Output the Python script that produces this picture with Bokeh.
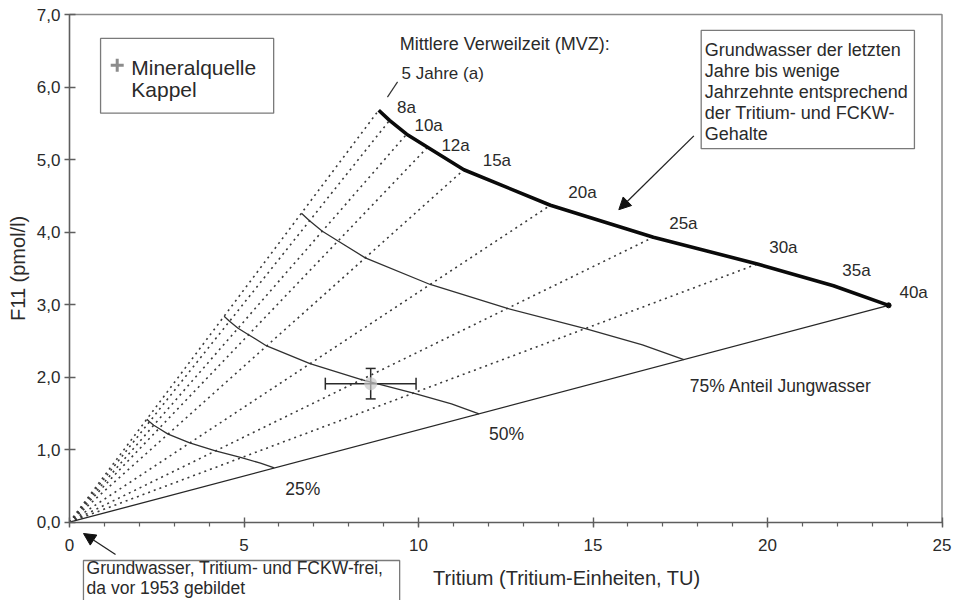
import math
from bokeh.plotting import figure
from bokeh.models import (Range1d, ColumnDataSource, Arrow, NormalHead,
                          Whisker, TeeHead, FixedTicker)
from bokeh.core.properties import value
from bokeh.embed import file_html
from bokeh.resources import INLINE

# ---------------- data ----------------
ages = [5, 8, 10, 12, 15, 20, 25, 30, 35, 40]
age_labels = ["5 Jahre (a)", "8a", "10a", "12a", "15a", "20a", "25a", "30a", "35a", "40a"]
tritium = [8.86, 9.17, 9.66, 10.26, 11.30, 13.78, 16.73, 19.71, 21.89, 23.47]
f11 = [5.68, 5.54, 5.35, 5.17, 4.86, 4.37, 3.93, 3.56, 3.26, 2.99]
dotted_ages = [5, 8, 10, 12, 15, 20, 25, 30]

young_fractions = [0.25, 0.50, 0.75]
fraction_labels = ["25%", "50%", "75% Anteil Jungwasser"]

sample_name = "Mineralquelle\nKappel"
sample_tritium = [8.63]
sample_tritium_err = [1.30]
sample_f11 = [1.91]
sample_f11_err = [0.21]

x_ticks = [0, 5, 10, 15, 20, 25]
x_tick_labels = ["0", "5", "10", "15", "20", "25"]
x_minor_ticks = list(range(0, 26))
y_ticks = [0, 1, 2, 3, 4, 5, 6, 7]
y_tick_labels = ["0,0", "1,0", "2,0", "3,0", "4,0", "5,0", "6,0", "7,0"]

x_title = "Tritium  (Tritium-Einheiten, TU)"
y_title = "F11 (pmol/l)"
mvz_title = "Mittlere Verweilzeit (MVZ):"
note_young = "Grundwasser der letzten\nJahre bis wenige\nJahrzehnte entsprechend\nder Tritium- und FCKW-\nGehalte"
note_old = "Grundwasser, Tritium- und FCKW-frei,\nda vor 1953 gebildet"

# ---------------- layout / styling ----------------
FONT = "Liberation Sans"
TXT = "#2a2a2a"
AX = "#5e5e5e"
BOX = "#7a7a7a"

W, H = 952, 600
PX_LEFT, PX_RIGHT = 69.0, 941.5     # canvas px of x = 0 and x = 25
PY_BOTTOM, PY_TOP = 521.7, 14.0     # canvas px of y = 0 and y = 7
kx = (PX_RIGHT - PX_LEFT) / (x_ticks[-1] - x_ticks[0])
ky = (PY_BOTTOM - PY_TOP) / (y_ticks[-1] - y_ticks[0])
x_range = Range1d(x_ticks[0] - PX_LEFT / kx, x_ticks[-1] + (W - PX_RIGHT) / kx)
y_range = Range1d(y_ticks[0] - (H - PY_BOTTOM) / ky, y_ticks[-1] + PY_TOP / ky)

# label offsets in screen pixels
age_dx = [64, 17, 22, 28, 33, 32, 30, 26, 23, 25]
age_dy = [-37, -13, -9, -2, -9, -13, -14, -16, -15, -13]
frac_dx = [11, 10, 6]
frac_dy = [21, 20, 26]

p = figure(width=W, height=H, x_range=x_range, y_range=y_range,
           output_backend="svg", toolbar_location=None,
           min_border_left=0, min_border_right=0, min_border_top=0, min_border_bottom=0)
p.grid.visible = False
p.outline_line_color = None
p.background_fill_color = "white"
p.border_fill_color = "white"

p.xaxis.ticker = FixedTicker(ticks=x_ticks, minor_ticks=x_minor_ticks)
p.xaxis.major_label_overrides = {t: l for t, l in zip(x_ticks, x_tick_labels)}
p.yaxis.ticker = FixedTicker(ticks=y_ticks)
p.yaxis.major_label_overrides = {t: l for t, l in zip(y_ticks, y_tick_labels)}
p.xaxis.fixed_location = y_ticks[0]
p.yaxis.fixed_location = x_ticks[0]
p.xaxis.bounds = (x_ticks[0], x_ticks[-1])
p.yaxis.bounds = (y_ticks[0], y_ticks[-1])

for ax in (p.xaxis, p.yaxis):
    ax.axis_line_color = AX
    ax.axis_line_width = 1.6
    ax.major_tick_line_color = AX
    ax.major_tick_line_width = 1.4
    ax.minor_tick_line_color = AX
    ax.minor_tick_line_width = 1.2
    ax.major_label_text_font = FONT
    ax.major_label_text_font_size = "17px"
    ax.major_label_text_color = TXT
p.xaxis.major_tick_in = 5
p.xaxis.major_tick_out = 5
p.xaxis.minor_tick_in = 0
p.xaxis.minor_tick_out = 4
p.xaxis.major_label_standoff = 12
p.yaxis.major_tick_in = 6
p.yaxis.major_tick_out = 5
p.yaxis.minor_tick_line_color = None
p.yaxis.major_label_standoff = 4

# plot frame (top and right edges)
p.line([x_ticks[0], x_ticks[-1], x_ticks[-1]], [y_ticks[-1], y_ticks[-1], y_ticks[0]],
       line_color="#8a8a8a", line_width=1.5)

# dotted lines origin -> age points
dx_, dy_ = [], []
for a in dotted_ages:
    i = ages.index(a)
    dx_.append([0, tritium[i]])
    dy_.append([0, f11[i]])
p.multi_line(xs=dx_, ys=dy_, line_color="#3a3a3a", line_width=1.6, line_dash="2 4")

# bottom line (oldest water end member)
p.line([0, tritium[-1]], [0, f11[-1]], line_color="#262626", line_width=1.3)

# mixing lines (fraction of young water)
mx = [[f * t for t in tritium] for f in young_fractions]
my = [[f * v for v in f11] for f in young_fractions]
p.multi_line(xs=mx, ys=my, line_color="#303030", line_width=1.3)

# main curve
p.line(tritium, f11, line_color="#0a0a0a", line_width=3.6, line_join="round")
p.scatter([tritium[-1]], [f11[-1]], size=5, color="#0a0a0a")

# leader line for "5 Jahre (a)"
p.segment(x0=[tritium[0] + 0.25], y0=[f11[0] + 0.18], x1=[tritium[0] + 0.54], y1=[f11[0] + 0.39],
          line_color="#333", line_width=1.2)

# age labels
p.text(x=tritium, y=f11, text=age_labels, x_offset=age_dx, y_offset=age_dy,
       text_align="center", text_baseline="middle", text_font=value(FONT),
       text_font_size="17px", text_color=TXT)

# fraction labels at mixing line ends
fx = [f * tritium[-1] for f in young_fractions]
fy = [f * f11[-1] for f in young_fractions]
p.text(x=fx, y=fy, text=fraction_labels, x_offset=frac_dx, y_offset=frac_dy,
       text_align="left", text_baseline="middle", text_font=value(FONT),
       text_font_size="17.5px", text_color=TXT)

# MVZ title
p.text(x=[9.46], y=[6.60], text=[mvz_title], text_align="left", text_baseline="middle",
       text_font=value(FONT), text_font_size="18px", text_color=TXT)

# sample point with error bars
src = ColumnDataSource(dict(x=sample_tritium, y=sample_f11,
                            xl=[a - e for a, e in zip(sample_tritium, sample_tritium_err)],
                            xu=[a + e for a, e in zip(sample_tritium, sample_tritium_err)],
                            yl=[a - e for a, e in zip(sample_f11, sample_f11_err)],
                            yu=[a + e for a, e in zip(sample_f11, sample_f11_err)]))
p.scatter("x", "y", source=src, marker="circle", size=13, fill_color="#c8c8c8", fill_alpha=0.7,
          line_color=None)
p.add_layout(Whisker(source=src, base="y", lower="xl", upper="xu", dimension="width",
                     line_color="#2a2a2a", line_width=1.5,
                     upper_head=TeeHead(size=12, line_color="#2a2a2a", line_width=1.5),
                     lower_head=TeeHead(size=12, line_color="#2a2a2a", line_width=1.5)))
p.add_layout(Whisker(source=src, base="x", lower="yl", upper="yu", dimension="height",
                     line_color="#2a2a2a", line_width=1.5,
                     upper_head=TeeHead(size=10, line_color="#2a2a2a", line_width=1.5),
                     lower_head=TeeHead(size=10, line_color="#2a2a2a", line_width=1.5)))

# legend box
p.quad(left=[0.89], right=[5.85], top=[6.67], bottom=[5.64], fill_color="white",
       line_color=BOX, line_width=1.3)
p.scatter([1.367], [6.30], marker="cross", size=13, line_color="#8c8c8c", line_width=3)
p.text(x=[1.77], y=[6.12], text=[sample_name], text_align="left", text_baseline="middle",
       text_font=value(FONT), text_font_size="21px", text_line_height=0.97, text_color=TXT)

# top-right note box
p.quad(left=[18.1], right=[24.21], top=[6.78], bottom=[5.15], fill_color="white",
       line_color=BOX, line_width=1.3)
p.text(x=[18.2], y=[5.93], text=[note_young], text_align="left", text_baseline="middle",
       text_font=value(FONT), text_font_size="18px", text_line_height=1.045, text_color=TXT)

# note box below the axis
p.quad(left=[0.40], right=[9.46], top=[-0.528], bottom=[-1.3], fill_color="white",
       line_color=BOX, line_width=1.3)
p.text(x=[0.49], y=[-0.772], text=[note_old], text_align="left", text_baseline="middle",
       text_font=value(FONT), text_font_size="17.5px", text_line_height=0.98, text_color=TXT)

# arrows
p.add_layout(Arrow(end=NormalHead(size=12, fill_color="#111", line_color="#111"),
                   x_start=17.89, y_start=5.327, x_end=15.74, y_end=4.309,
                   line_color="#222", line_width=1.3))
p.add_layout(Arrow(end=NormalHead(size=12, fill_color="#111", line_color="#111"),
                   x_start=1.319, y_start=-0.445, x_end=0.401, y_end=-0.156,
                   line_color="#222", line_width=1.3))

# axis titles
p.text(x=[14.33], y=[-0.776], text=[x_title], text_align="center", text_baseline="middle",
       text_font=value(FONT), text_font_size="20px", text_color=TXT)
p.text(x=[-1.476], y=[3.5], text=[y_title], angle=math.pi / 2, text_align="center",
       text_baseline="middle", text_font=value(FONT), text_font_size="20px", text_color=TXT)

open("out.html", "w").write(file_html(p, INLINE))
